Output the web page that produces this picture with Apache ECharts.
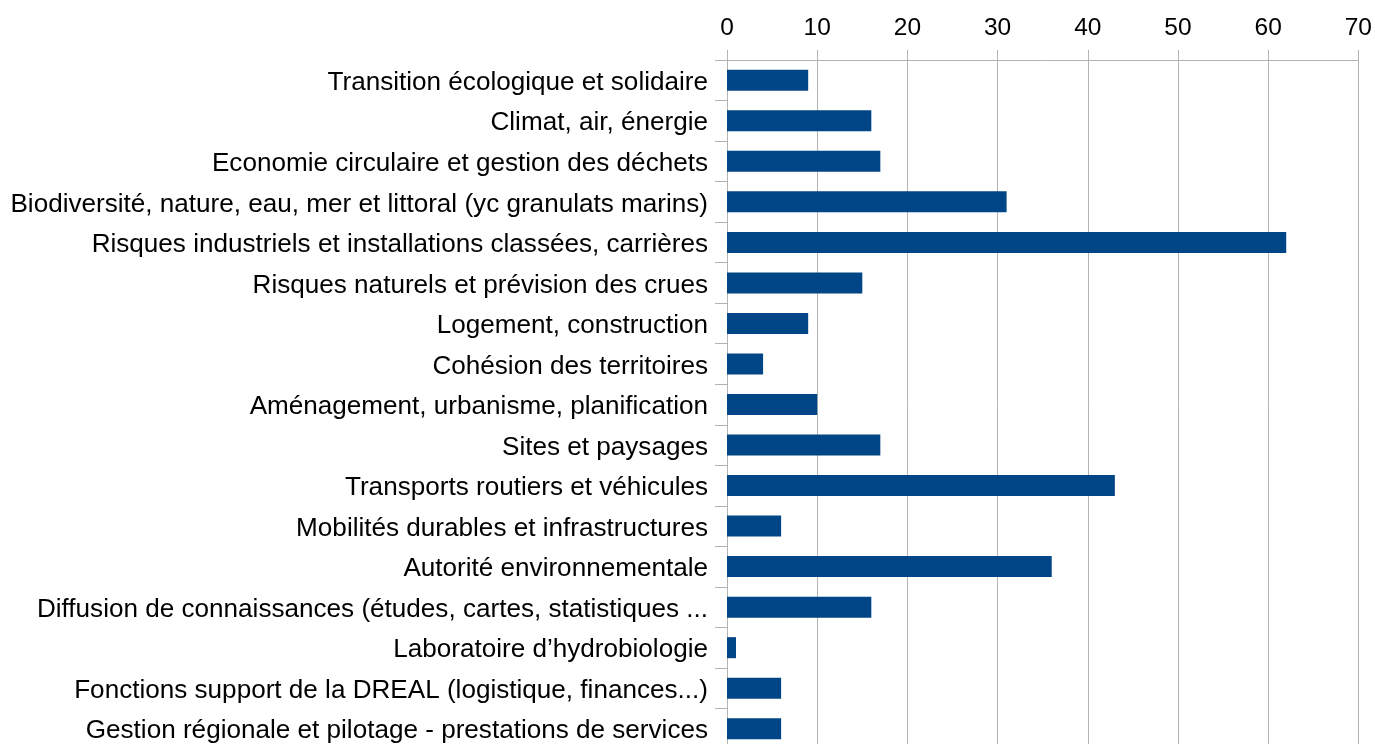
<!DOCTYPE html>
<html>
<head>
<meta charset="utf-8">
<script src="https://cdn.jsdelivr.net/npm/echarts@6/dist/echarts.min.js"></script>
<style>
html,body{margin:0;padding:0;overflow:hidden;background:#fff;}
#chart{width:1375px;height:749px;}
</style>
</head>
<body>
<div id="chart"></div>
<script>
const categories = [
  "Transition écologique et solidaire",
  "Climat, air, énergie",
  "Economie circulaire et gestion des déchets",
  "Biodiversité, nature, eau, mer et littoral (yc granulats marins)",
  "Risques industriels et installations classées, carrières",
  "Risques naturels et prévision des crues",
  "Logement, construction",
  "Cohésion des territoires",
  "Aménagement, urbanisme, planification",
  "Sites et paysages",
  "Transports routiers et véhicules",
  "Mobilités durables et infrastructures",
  "Autorité environnementale",
  "Diffusion de connaissances (études, cartes, statistiques ...",
  "Laboratoire d’hydrobiologie",
  "Fonctions support de la DREAL (logistique, finances...)",
  "Gestion régionale et pilotage - prestations de services"
];
const values = [9, 16, 17, 31, 62, 15, 9, 4, 10, 17, 43, 6, 36, 16, 1, 6, 6];
const xMin = 0, xMax = 70, xInterval = 10;

const chart = echarts.init(document.getElementById('chart'), null, {renderer: 'canvas'});
chart.setOption({
  animation: false,
  backgroundColor: '#ffffff',
  grid: {left: 727, right: 16, top: 60, bottom: 0, containLabel: false},
  xAxis: {
    type: 'value',
    position: 'top',
    min: xMin, max: xMax, interval: xInterval,
    axisLine: {show: true, lineStyle: {color: '#b3b3b3', width: 1}},
    axisTick: {show: true, length: 10, lineStyle: {color: '#b3b3b3'}},
    splitLine: {show: true, lineStyle: {color: '#b3b3b3', width: 1}},
    axisLabel: {margin: 19, fontFamily: 'Liberation Sans', fontSize: 24.5, color: '#000'}
  },
  yAxis: {
    type: 'category',
    data: categories,
    inverse: true,
    axisLine: {show: true, lineStyle: {color: '#b3b3b3', width: 1}},
    axisTick: {show: true, length: 12, lineStyle: {color: '#b3b3b3'}},
    splitLine: {show: false},
    axisLabel: {
      margin: 19, color: '#000',
      formatter: function (v) { return '{a|' + v + '}'; },
      rich: {a: {fontFamily: 'Liberation Sans', fontSize: 26.1, color: '#000', padding: [5, 0, 0, 0]}}
    }
  },
  series: [{
    type: 'bar',
    data: values,
    barWidth: 21,
    itemStyle: {color: '#004586'}
  }]
});
</script>
</body>
</html>
